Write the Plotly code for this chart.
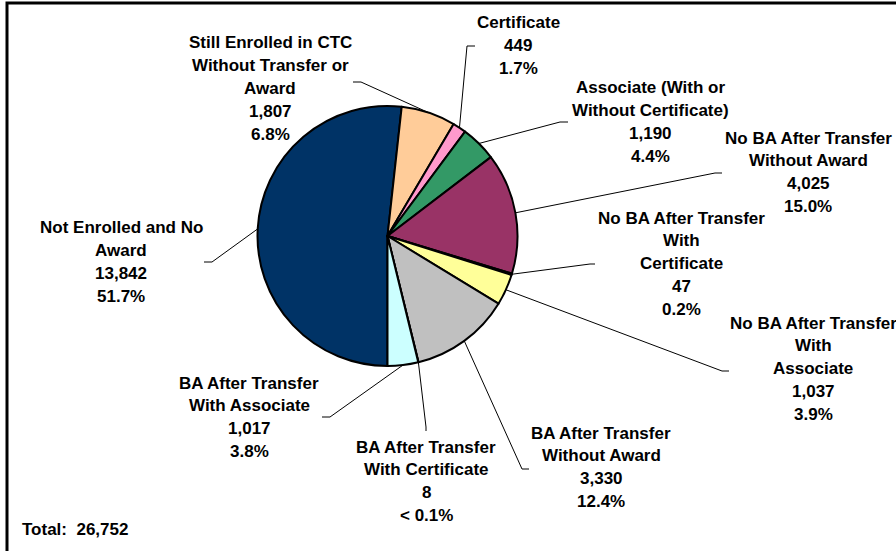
import math
import plotly.graph_objects as go

# slices in drawing order (clockwise, starting at 6 o'clock)
names = [
    ["Not Enrolled and No", "Award"],
    ["Still Enrolled in CTC", "Without Transfer or", "Award"],
    ["Certificate"],
    ["Associate (With or", "Without Certificate)"],
    ["No BA After Transfer", "Without Award"],
    ["No BA After Transfer", "With", "Certificate"],
    ["No BA After Transfer", "With", "Associate"],
    ["BA After Transfer", "Without Award"],
    ["BA After Transfer", "With Certificate"],
    ["BA After Transfer", "With Associate"],
]
counts = [13842, 1807, 449, 1190, 4025, 47, 1037, 3330, 8, 1017]
colors = ["#003366", "#FFCC99", "#FF99CC", "#339966", "#993366",
          "#333399", "#FFFF99", "#C0C0C0", "#666699", "#CCFFFF"]
total = sum(counts)

W, H = 896, 551
cx, cy, r = 387.5, 236, 130
rotation = 180

# label placement: centre x, first line y, end of leader line, elbow of leader line
label_pos = [
    (121, 228, (204, 262), (212, 262)),
    (270, 43, (353, 82), (361, 82)),
    (518, 23, (475, 46), (467, 46)),
    (650, 88, (568, 122), (560, 122)),
    (808, 138, (722, 173), (715, 173)),
    (681, 218, (595, 264), (590, 264)),
    (813, 323, (729, 371), (722, 371)),
    (601, 433, (529, 469), (522, 469)),
    (426, 447, (426, 431), (426, 427)),
    (249, 383, (322, 417), (330, 417)),
]
line_gap = 22.8
font = dict(family="Arial, Liberation Sans", size=17, color="black", weight="bold")


def px(x, y):
    return x / W, 1 - y / H


def pct_text(v):
    p = 100 * v / total
    if p < 0.1:
        return "< 0.1%"
    return f"{p:.1f}%"


fig = go.Figure(go.Pie(
    values=counts,
    labels=[" ".join(n) for n in names],
    sort=False,
    direction="clockwise",
    rotation=rotation,
    textinfo="none",
    hoverinfo="label+value+percent",
    marker=dict(colors=colors, line=dict(color="black", width=2)),
    domain=dict(x=[(cx - r) / W, (cx + r) / W], y=[1 - (cy + r) / H, 1 - (cy - r) / H]),
    showlegend=False,
))

annotations = []
shapes = []
cum = 0
for i, v in enumerate(counts):
    mid = math.radians(rotation + (cum + v / 2) / total * 360)
    cum += v
    ex, ey = cx + r * math.sin(mid), cy - r * math.cos(mid)
    lx, ly, tick, elbow = label_pos[i]
    lines = names[i] + [f"{v:,}", pct_text(v)]
    for j, t in enumerate(lines):
        x, y = px(lx, ly + j * line_gap)
        annotations.append(dict(x=x, y=y, xref="paper", yref="paper", text=t,
                                showarrow=False, xanchor="center", yanchor="middle",
                                font=font))
    p0, p1, p2 = px(ex, ey), px(*elbow), px(*tick)
    shapes.append(dict(type="path", xref="paper", yref="paper",
                       path=f"M {p0[0]},{p0[1]} L {p1[0]},{p1[1]} L {p2[0]},{p2[1]}",
                       line=dict(color="black", width=1)))

tx, ty = px(20, 529)
annotations.append(dict(x=tx, y=ty, xref="paper", yref="paper",
                        text=f"Total:&nbsp; {total:,}", showarrow=False,
                        xanchor="left", yanchor="middle", font=font))

# chart frame (only top and left edges fall inside the picture)
bx0, by0 = px(7, 3)
shapes.append(dict(type="rect", xref="paper", yref="paper", x0=bx0, y0=-0.1,
                   x1=1.1, y1=by0, line=dict(color="black", width=3)))

fig.update_layout(
    width=W, height=H,
    margin=dict(l=0, r=0, t=0, b=0),
    paper_bgcolor="white",
    plot_bgcolor="white",
    annotations=annotations,
    shapes=shapes,
)

# drop the page's default body margin so the figure sits at the window's corner
fig.write_html("out.html", config={"displayModeBar": False},
               post_script="document.body.style.margin='0';document.body.style.overflow='hidden';")
